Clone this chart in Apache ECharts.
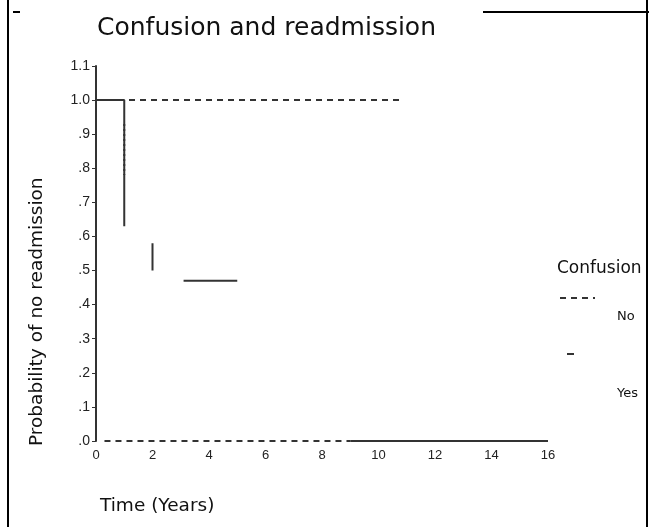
<!DOCTYPE html>
<html>
<head>
<meta charset="utf-8">
<title>Confusion and readmission</title>
<script src="https://cdn.jsdelivr.net/npm/echarts@6/dist/echarts.min.js"></script>
<style>
    html, body { margin: 0; padding: 0; background: #fff; }
    #main { width: 649px; height: 527px; }
</style>
</head>
<body>
<div id="main"></div>
<script>
(function() {
"use strict";

    // 数据：Kaplan-Meier 阶梯曲线（'-' 表示断开）
    var noX = [0, 10.8, '-', 0.3, 9];
    var noY = [1, 1, '-', 0, 0];
    var noDropX = [1, 1];
    var noDropY = [0.93, 0.78];
    var yesX = [0, 1, 1, '-', 2, 2, '-', 3.1, 5, '-', 9, 16];
    var yesY = [1, 1, 0.63, '-', 0.58, 0.5, '-', 0.47, 0.47, '-', 0, 0];
    var xTicks = [0, 2, 4, 6, 8, 10, 12, 14, 16];
    var yTicks = [0, 0.1, 0.2, 0.3, 0.4, 0.5, 0.6, 0.7, 0.8, 0.9, 1.0, 1.1];

    function pairs(xs, ys) {
        var out = [];
        for (var i = 0; i < xs.length; i++) {
            out.push([xs[i], ys[i]]);
        }
        return out;
    }

    var ink = '#333';
    var font = 'Liberation Sans, Arial, sans-serif';
    var wide = 'DejaVu Sans, sans-serif';

    var myChart = echarts.init(document.getElementById('main'), null, { renderer: 'canvas' });
    var option = {
        animation: false,
        backgroundColor: '#fff',
        grid: { left: 96, right: 101, top: 66, bottom: 86 },
        xAxis: {
            type: 'value',
            min: xTicks[0],
            max: xTicks[xTicks.length - 1],
            interval: 2,
            splitLine: { show: false },
            axisLine: { show: false },
            axisTick: { show: false },
            axisLabel: { color: '#222', fontSize: 13, fontFamily: font, margin: 8 }
        },
        yAxis: {
            type: 'value',
            min: yTicks[0],
            max: yTicks[yTicks.length - 1],
            interval: 0.1,
            splitLine: { show: false },
            axisLine: { show: true, lineStyle: { color: ink, width: 2 } },
            axisTick: { show: true, length: 4, lineStyle: { color: ink } },
            axisLabel: {
                color: '#222', fontSize: 14, fontFamily: font, margin: 6,
                formatter: function(v) {
                    var s = v.toFixed(1);
                    return v >= 1 ? s : s.slice(1);
                }
            }
        },
        series: [{
            name: 'No',
            type: 'line',
            data: pairs(noX, noY),
            showSymbol: false,
            connectNulls: false,
            lineStyle: { color: ink, width: 2, type: [6, 5] }
        }, {
            name: 'No drop',
            type: 'line',
            data: pairs(noDropX, noDropY),
            showSymbol: false,
            lineStyle: { color: ink, width: 2, type: [2, 3] }
        }, {
            name: 'Yes',
            type: 'line',
            data: pairs(yesX, yesY),
            showSymbol: false,
            connectNulls: false,
            lineStyle: { color: ink, width: 2 }
        }],
        graphic: [
            // 标题
            { type: 'text', left: 97, top: 16, style: { text: 'Confusion and readmission', fill: '#111', font: '25px ' + wide } },
            // 坐标轴名称
            { type: 'text', x: 28, y: 446, rotation: Math.PI / 2, style: { text: 'Probability of no readmission', fill: '#111', font: '18.5px ' + wide } },
            { type: 'text', left: 100, top: 497, style: { text: 'Time (Years)', fill: '#111', font: '18.5px ' + wide } },
            // 图例
            { type: 'text', left: 557, top: 260, style: { text: 'Confusion', fill: '#111', font: '17px ' + wide } },
            { type: 'line', shape: { x1: 560, y1: 298, x2: 595, y2: 298 }, style: { stroke: ink, lineWidth: 2, lineDash: [6, 5] } },
            { type: 'text', left: 617, top: 310, style: { text: 'No', fill: '#111', font: '13px ' + wide } },
            { type: 'line', shape: { x1: 567, y1: 354, x2: 574, y2: 354 }, style: { stroke: ink, lineWidth: 2 } },
            { type: 'text', left: 617, top: 387, style: { text: 'Yes', fill: '#111', font: '13px ' + wide } },
            // 边框
            { type: 'line', shape: { x1: 8, y1: 0, x2: 8, y2: 527 }, style: { stroke: '#000', lineWidth: 2 } },
            { type: 'line', shape: { x1: 647, y1: 0, x2: 647, y2: 527 }, style: { stroke: '#000', lineWidth: 2 } },
            { type: 'line', shape: { x1: 483, y1: 12, x2: 649, y2: 12 }, style: { stroke: '#000', lineWidth: 2 } },
            { type: 'line', shape: { x1: 13, y1: 12, x2: 20, y2: 12 }, style: { stroke: '#000', lineWidth: 2 } }
        ]
    };
    myChart.setOption(option);
})();
</script>
</body>
</html>
